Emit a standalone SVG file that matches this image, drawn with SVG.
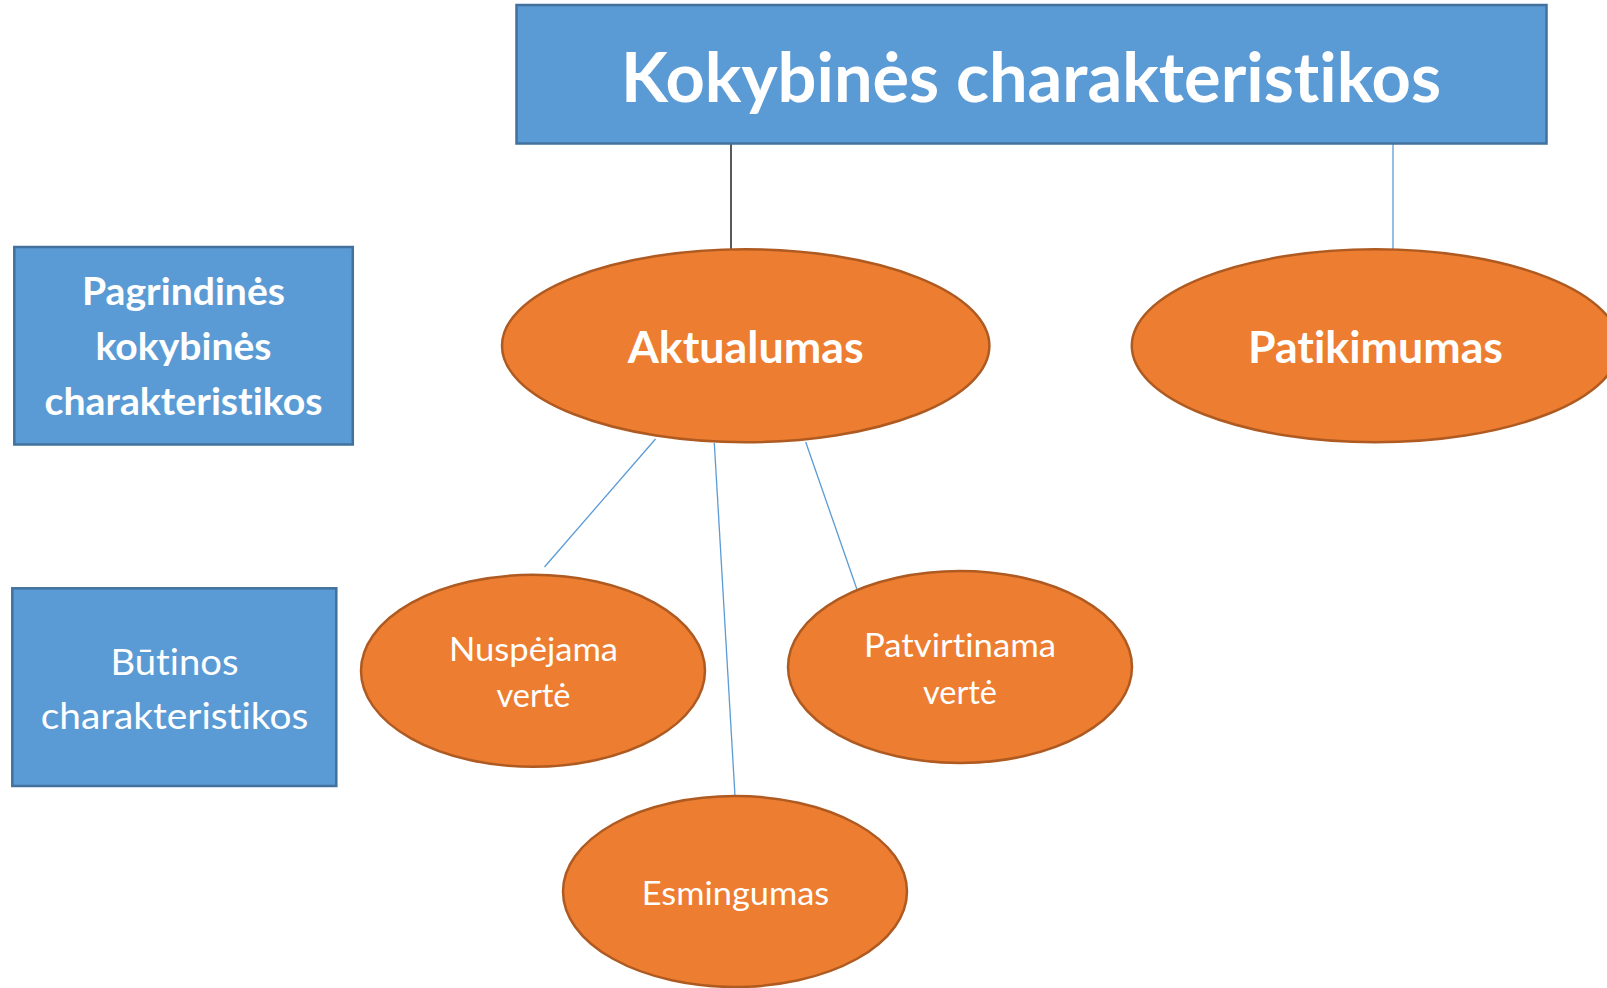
<svg xmlns="http://www.w3.org/2000/svg" width="1607" height="988" viewBox="0 0 1607 988">
<style>
.box{fill:#5B9BD5;stroke:#41719C;stroke-width:2.5}
.ell{fill:#ED7D31;stroke:#AE5A21;stroke-width:2.5}
.t{font-family:Lato,"Open Sans","Liberation Sans",sans-serif;fill:#FFFFFF;text-anchor:middle;font-variant-ligatures:none;font-feature-settings:"liga" 0,"clig" 0}
.b{font-weight:bold}
.conn{fill:none;stroke:#5B9BD5;stroke-width:1.3}
</style>
<rect width="1607" height="988" fill="#FFFFFF"/>
<g id="connectors">
<line x1="731" y1="143.5" x2="731" y2="255" stroke="#000000" stroke-width="1.3"/>
<line class="conn" x1="1393" y1="143.5" x2="1393" y2="249"/>
<line class="conn" x1="655.5" y1="439" x2="544.5" y2="567"/>
<line class="conn" x1="714.3" y1="443" x2="735" y2="796"/>
<line class="conn" x1="805.7" y1="442" x2="857" y2="589.5"/>
</g>
<g id="title">
<rect class="box" x="516.5" y="5" width="1030" height="138.5"/>
<text class="t b" x="1031" y="102" font-size="69" textLength="820" lengthAdjust="spacingAndGlyphs">Kokybinės charakteristikos</text>
</g>
<g id="pagrindines">
<rect class="box" x="14.3" y="247" width="338.5" height="197.5"/>
<text class="t b" font-size="38"><tspan x="183.5" y="304.5" textLength="203" lengthAdjust="spacingAndGlyphs">Pagrindinės</tspan><tspan x="183.5" y="359.5" textLength="176" lengthAdjust="spacingAndGlyphs">kokybinės</tspan><tspan x="183.5" y="414.5" textLength="278" lengthAdjust="spacingAndGlyphs">charakteristikos</tspan></text>
</g>
<g id="butinos">
<rect class="box" x="12.3" y="588.3" width="324" height="197.7"/>
<text class="t" font-size="37"><tspan x="174.5" y="675" textLength="128" lengthAdjust="spacingAndGlyphs">Būtinos</tspan><tspan x="174.5" y="728.5" textLength="267.6" lengthAdjust="spacingAndGlyphs">charakteristikos</tspan></text>
</g>
<g id="aktualumas">
<ellipse class="ell" cx="745.7" cy="345.8" rx="243.7" ry="96.5"/>
<text class="t b" x="745.7" y="363" font-size="43" textLength="236" lengthAdjust="spacingAndGlyphs">Aktualumas</text>
</g>
<g id="patikimumas">
<ellipse class="ell" cx="1375.5" cy="345.8" rx="243.7" ry="96.5"/>
<text class="t b" x="1375.5" y="363" font-size="43" textLength="255" lengthAdjust="spacingAndGlyphs">Patikimumas</text>
</g>
<g id="nuspejama">
<ellipse class="ell" cx="533" cy="670.8" rx="172" ry="96"/>
<text class="t" font-size="32.5"><tspan x="533.5" y="660.5" textLength="169" lengthAdjust="spacingAndGlyphs">Nuspėjama</tspan><tspan x="533.5" y="707">vertė</tspan></text>
</g>
<g id="patvirtinama">
<ellipse class="ell" cx="960" cy="667" rx="172" ry="96"/>
<text class="t" font-size="32.5"><tspan x="960" y="656.7" textLength="192" lengthAdjust="spacingAndGlyphs">Patvirtinama</tspan><tspan x="960" y="704">vertė</tspan></text>
</g>
<g id="esmingumas">
<ellipse class="ell" cx="735" cy="891.5" rx="172" ry="95.5"/>
<text class="t" x="735.5" y="905" font-size="32.5" textLength="187.5" lengthAdjust="spacingAndGlyphs">Esmingumas</text>
</g>
</svg>
